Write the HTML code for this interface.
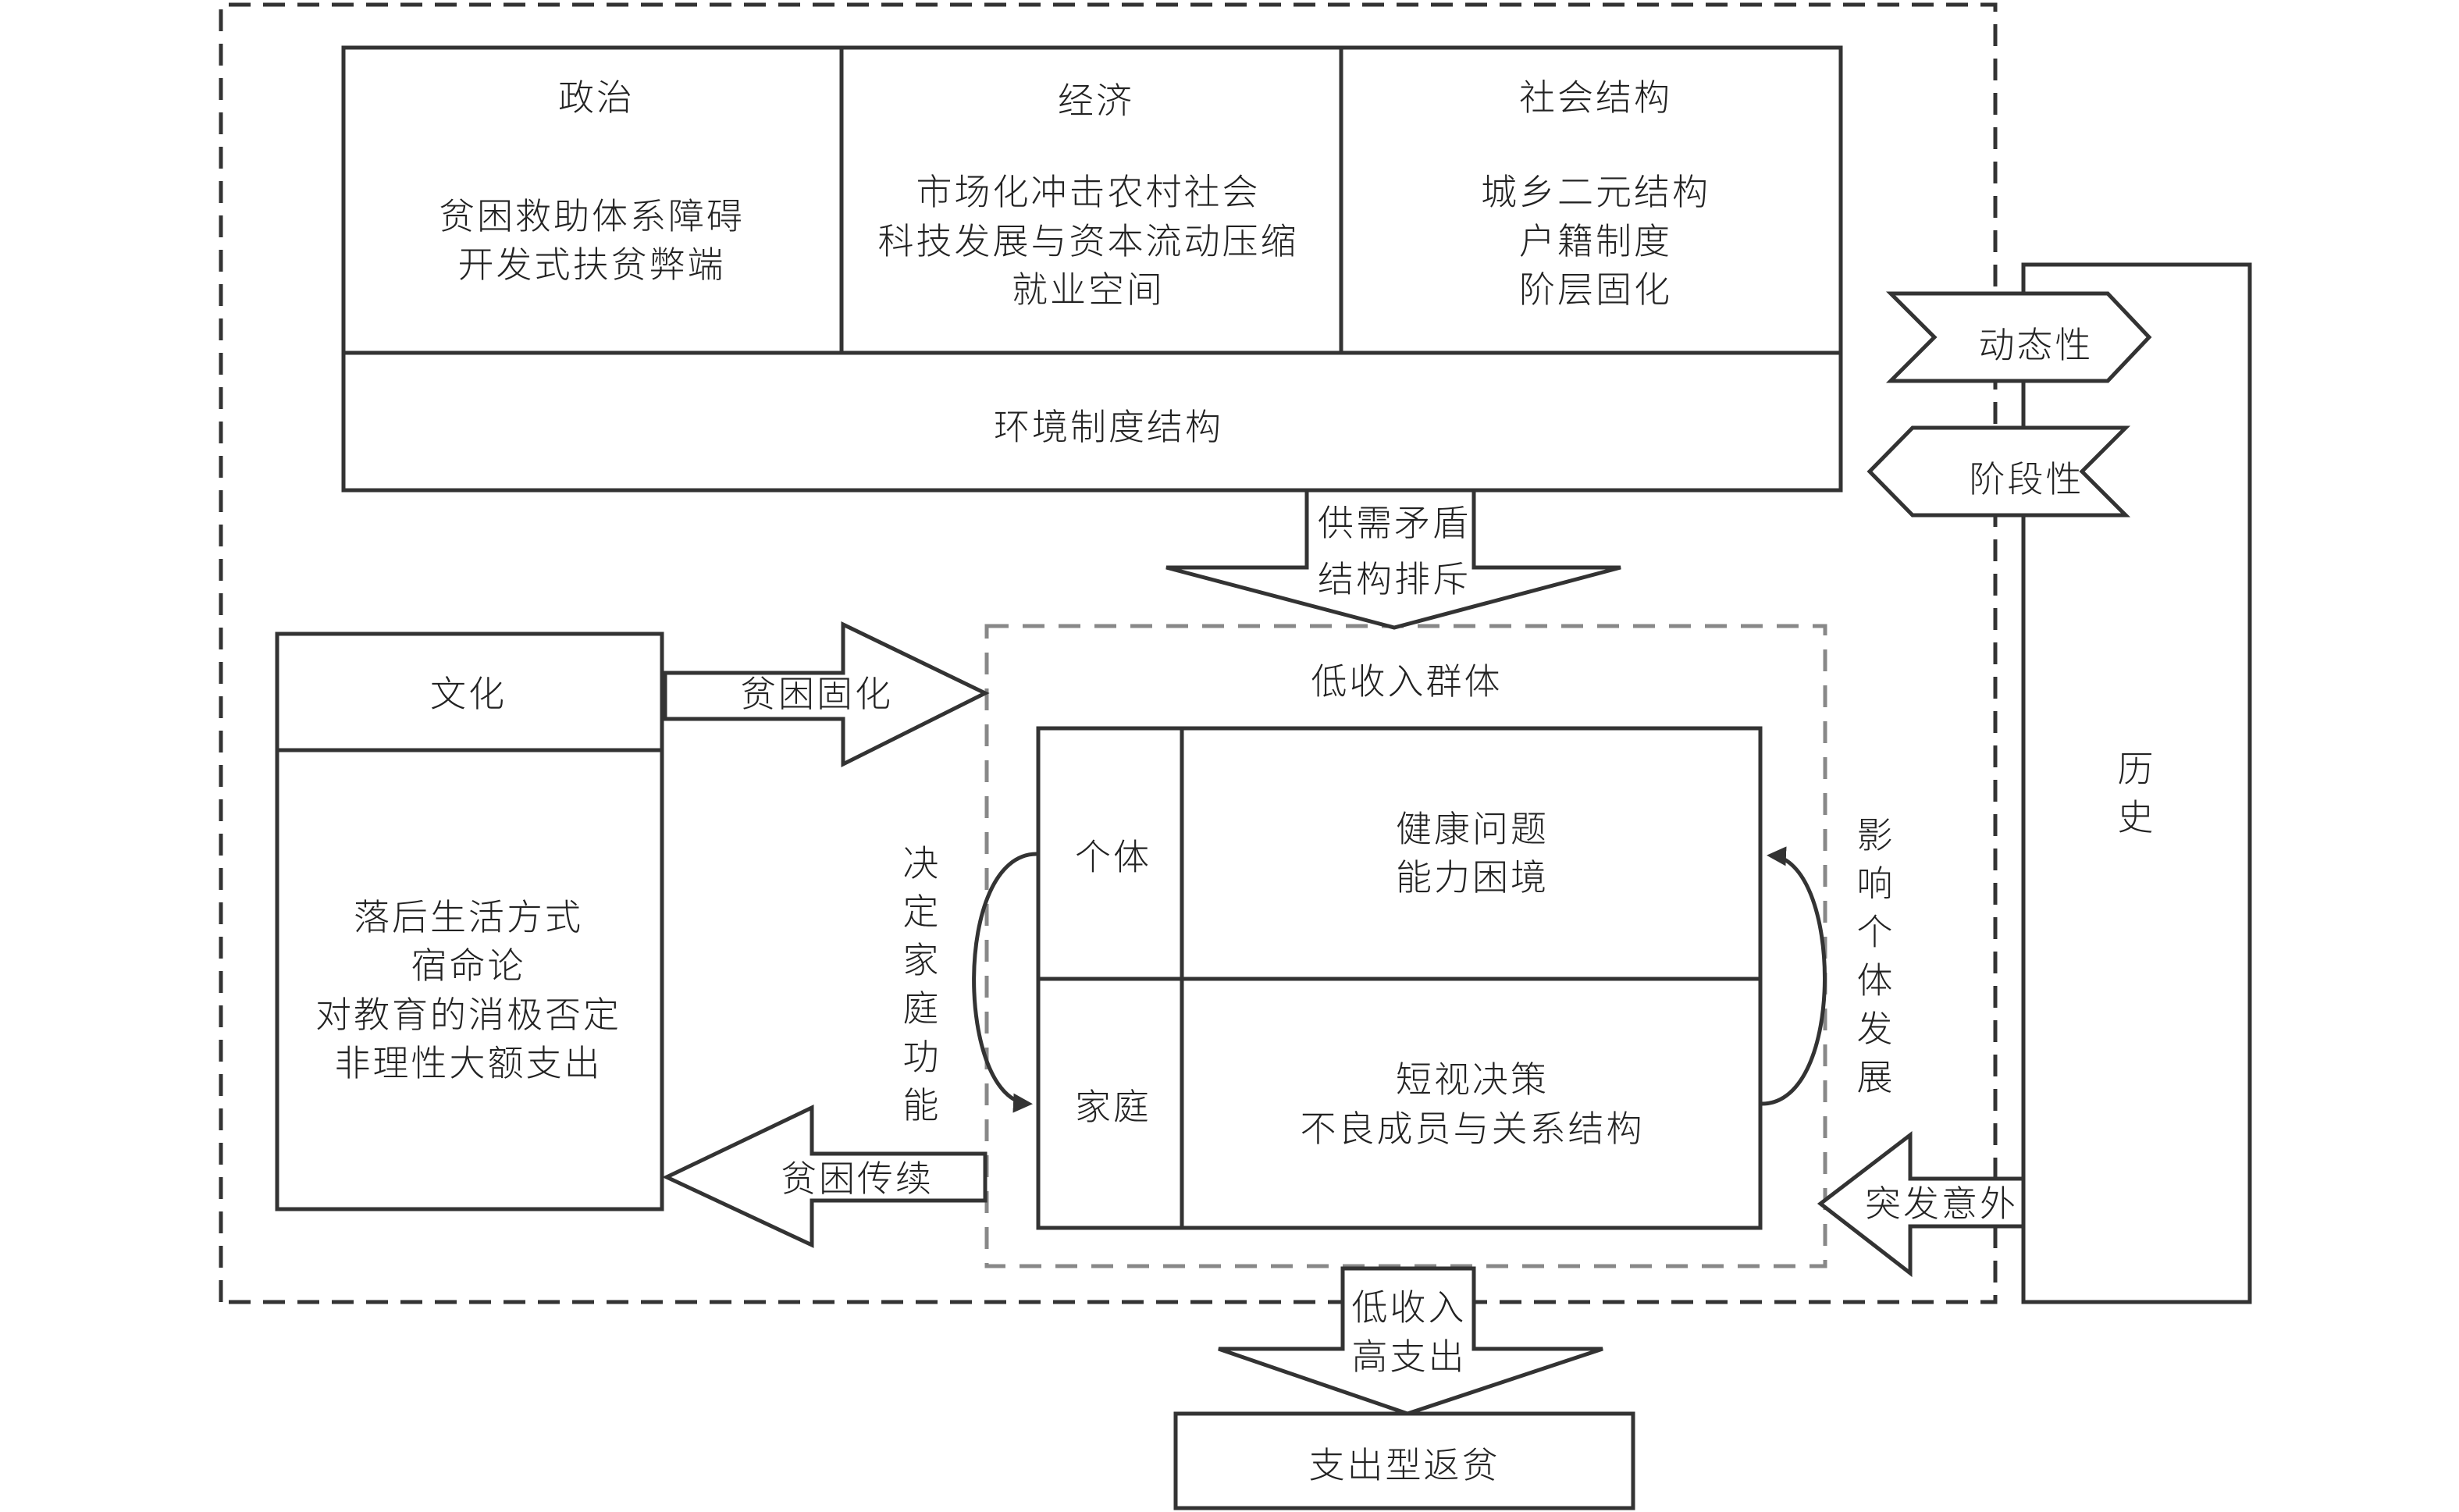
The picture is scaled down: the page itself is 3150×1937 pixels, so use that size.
<!DOCTYPE html>
<html><head><meta charset="utf-8"><style>
html,body{margin:0;padding:0;background:#fff}
svg{display:block}
text{font-family:"Liberation Sans","Noto Sans CJK SC",sans-serif;font-size:46px;fill:#222;text-anchor:middle;dominant-baseline:central;letter-spacing:3px;font-weight:300}
</style></head><body>
<svg width="3150" height="1937" viewBox="0 0 3150 1937" xmlns="http://www.w3.org/2000/svg">
<defs>
<marker id="ah" viewBox="0 0 10 10" refX="8" refY="5" markerWidth="5" markerHeight="5" orient="auto"><path d="M0,0L10,5L0,10z" fill="#333"/></marker>
</defs>
<g fill="none" stroke="#333" stroke-width="5">
<!-- outer dashed -->
<path d="M283,1668 L283,6 L2556,6 L2556,1668 Z" stroke-dasharray="28,16"/>
<!-- top box -->
<rect x="440" y="61" width="1918" height="567" fill="#fff"/>
<line x1="440" y1="452" x2="2358" y2="452"/>
<line x1="1078" y1="61" x2="1078" y2="452"/>
<line x1="1718" y1="61" x2="1718" y2="452"/>
<!-- history box -->
<rect x="2592" y="339" width="290" height="1329" fill="#fff"/>
<!-- chevrons -->
<polygon points="2422,376 2700,376 2753,432 2700,488 2422,488 2478,432" fill="#fff"/>
<polygon points="2723,548 2450,548 2395,604 2450,660 2723,660 2667,604" fill="#fff"/>
<!-- gray dashed -->
<rect x="1264" y="802" width="1074" height="820" stroke="#888" stroke-dasharray="28,18"/>
<!-- down arrow 1 -->
<polygon points="1674,628 1888,628 1888,727 2076,727 1786,804 1494,727 1674,727" fill="#fff"/>
<!-- inner box -->
<rect x="1330" y="933" width="925" height="640" fill="#fff"/>
<line x1="1514" y1="933" x2="1514" y2="1573"/>
<line x1="1330" y1="1254" x2="2255" y2="1254"/>
<!-- culture box -->
<rect x="355" y="812" width="493" height="737" fill="#fff"/>
<line x1="355" y1="961" x2="848" y2="961"/>
<!-- right arrow -->
<polygon points="852,862 1080,862 1080,800 1262,888 1080,979 1080,921 852,921" fill="#fff"/>
<!-- left arrow -->
<polygon points="1262,1478 1040,1478 1040,1419 854,1508 1040,1595 1040,1538 1262,1538" fill="#fff"/>
<!-- 突发意外 -->
<polygon points="2592,1510 2447,1510 2447,1454 2332,1542 2447,1631 2447,1571 2592,1571" fill="#fff"/>
<!-- down arrow 2 -->
<polygon points="1720,1625 1888,1625 1888,1728 2053,1728 1803,1811 1561,1728 1720,1728" fill="#fff"/>
<!-- bottom box -->
<rect x="1506" y="1811" width="586" height="121" fill="#fff"/>
<!-- curves -->
<path d="M1328,1094 C1220,1094 1225,1410 1318,1414" marker-end="url(#ah)"/>
<path d="M2257,1414 C2365,1414 2360,1100 2268,1096" marker-end="url(#ah)"/>
</g>
<text x="764" y="125">政治</text>
<text x="758" y="277">贫困救助体系障碍</text>
<text x="758" y="339">开发式扶贫弊端</text>
<text x="1404" y="129">经济</text>
<text x="1394" y="246">市场化冲击农村社会</text>
<text x="1394" y="309">科技发展与资本流动压缩</text>
<text x="1394" y="371">就业空间</text>
<text x="2044" y="125">社会结构</text>
<text x="2044" y="246">城乡二元结构</text>
<text x="2044" y="309">户籍制度</text>
<text x="2044" y="371">阶层固化</text>
<text x="1420" y="547">环境制度结构</text>
<text x="1786" y="670">供需矛盾</text>
<text x="1786" y="742">结构排斥</text>
<text x="2608" y="442">动态性</text>
<text x="2596" y="614">阶段性</text>
<text x="2737" y="985">历</text>
<text x="2737" y="1047">史</text>
<text x="1802" y="873">低收入群体</text>
<text x="1426" y="1098">个体</text>
<text x="1426" y="1418">家庭</text>
<text x="1886" y="1062">健康问题</text>
<text x="1886" y="1124">能力困境</text>
<text x="1886" y="1383">短视决策</text>
<text x="1886" y="1446">不良成员与关系结构</text>
<text x="600" y="889">文化</text>
<text x="600" y="1175">落后生活方式</text>
<text x="600" y="1237">宿命论</text>
<text x="600" y="1300">对教育的消极否定</text>
<text x="600" y="1362">非理性大额支出</text>
<text x="1046" y="889">贫困固化</text>
<text x="1098" y="1510">贫困传续</text>
<text x="2487" y="1542">突发意外</text>
<text x="1805" y="1675">低收入</text>
<text x="1805" y="1738">高支出</text>
<text x="1799" y="1877">支出型返贫</text>
<g>
<text x="1181" y="1106">决</text><text x="1181" y="1168">定</text><text x="1181" y="1230">家</text><text x="1181" y="1292">庭</text><text x="1181" y="1354">功</text><text x="1181" y="1416">能</text>
<text x="2403" y="1070">影</text><text x="2403" y="1132">响</text><text x="2403" y="1194">个</text><text x="2403" y="1256">体</text><text x="2403" y="1318">发</text><text x="2403" y="1380">展</text>
</g>
</svg>
</body></html>
